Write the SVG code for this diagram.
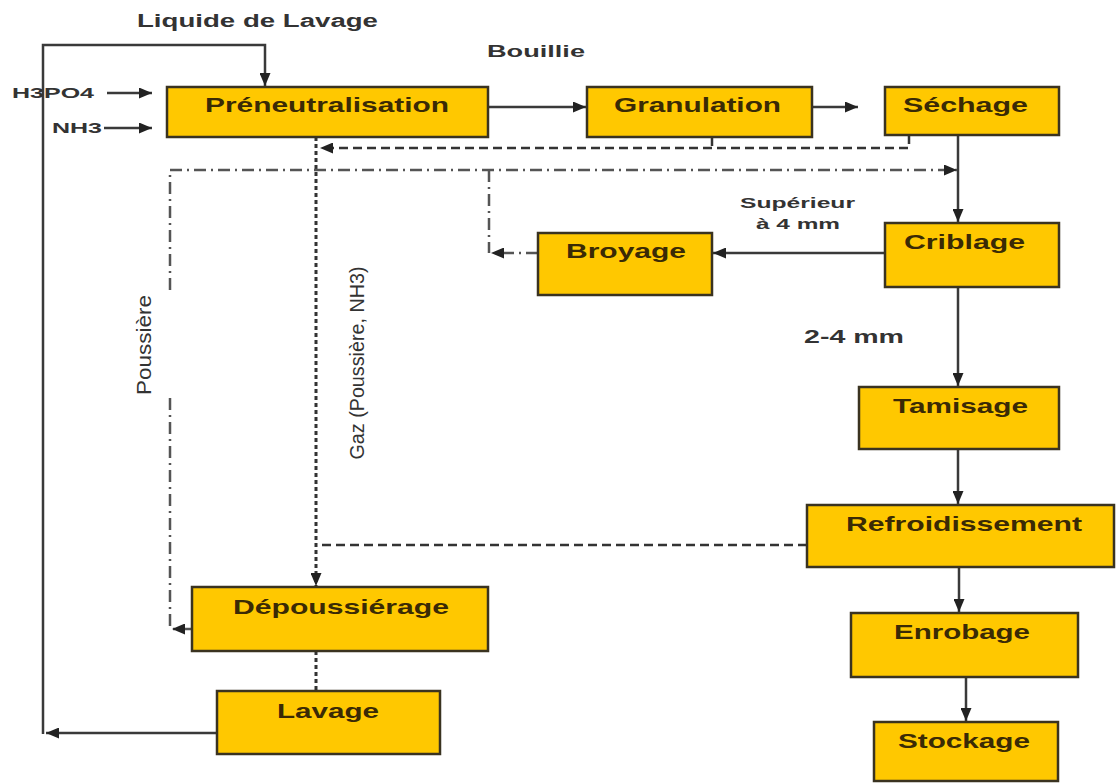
<svg xmlns="http://www.w3.org/2000/svg" width="1120" height="783" viewBox="0 0 1120 783">
<defs>
<marker id="ah" markerUnits="userSpaceOnUse" markerWidth="13" markerHeight="11" refX="13" refY="5.5" orient="auto">
<path d="M0,0 L13,5.5 L0,11 z" fill="#222"/>
</marker>
<style>
.box{fill:#FFC800;stroke:#3a3320;stroke-width:2.5}
.lbl{font-family:"Liberation Sans",Arial,sans-serif;font-weight:bold;font-size:21px;fill:#3a2a05}
.txt{font-family:"Liberation Sans",Arial,sans-serif;font-weight:bold;fill:#333}
.rot{font-family:"Liberation Sans",Arial,sans-serif;font-size:20px;fill:#333}
.solid{fill:none;stroke:#3a3a3a;stroke-width:2.5}
.dash{fill:none;stroke:#333;stroke-width:2.5;stroke-dasharray:9 5}
.dot{fill:none;stroke:#333;stroke-width:3;stroke-dasharray:4 3}
.dashdot{fill:none;stroke:#555;stroke-width:2.5;stroke-dasharray:12 5 2 5}
</style>
</defs>
<rect width="1120" height="783" fill="#fff"/>

<g id="connectors">
<path class="solid" d="M217,733 H46" marker-end="url(#ah)"/>
<path class="solid" d="M43,734 V45 H265 V86" marker-end="url(#ah)"/>
<path class="solid" d="M107,93 H152" marker-end="url(#ah)"/>
<path class="solid" d="M104,128 H152" marker-end="url(#ah)"/>
<path class="solid" d="M488,107 H586" marker-end="url(#ah)"/>
<path class="solid" d="M812,107 H858" marker-end="url(#ah)"/>
<path class="solid" d="M958,135 V222" marker-end="url(#ah)"/>
<path class="solid" d="M885,253 H713" marker-end="url(#ah)"/>
<path class="solid" d="M958,287 V386" marker-end="url(#ah)"/>
<path class="solid" d="M958,449 V504" marker-end="url(#ah)"/>
<path class="solid" d="M959,567 V612" marker-end="url(#ah)"/>
<path class="solid" d="M966,677 V721" marker-end="url(#ah)"/>
<path class="dash" d="M909,135 V148 H320" marker-end="url(#ah)"/>
<path class="dash" d="M712,137 V148"/>
<path class="dash" d="M807,545 H316"/>
<path class="dot" d="M316,137 V586" marker-end="url(#ah)"/>
<path class="dot" d="M316,651 V691"/>
<path class="dashdot" d="M170,290 V170 H957" marker-end="url(#ah)"/>
<path class="dashdot" d="M170,398 V629"/>
<path class="dashdot" d="M192,629 H172" marker-end="url(#ah)"/>
<path class="dashdot" d="M489,170 V253"/>
<path class="dashdot" d="M538,253 H491" marker-end="url(#ah)"/>
</g>

<g id="labels">
<text class="txt" x="137" y="27" font-size="18" textLength="241" lengthAdjust="spacingAndGlyphs">Liquide de Lavage</text>
<text class="txt" x="487" y="57" font-size="17" textLength="98" lengthAdjust="spacingAndGlyphs">Bouillie</text>
<text class="txt" x="12" y="98" font-size="15" textLength="82" lengthAdjust="spacingAndGlyphs">H3PO4</text>
<text class="txt" x="52" y="133" font-size="15" textLength="50" lengthAdjust="spacingAndGlyphs">NH3</text>
<text class="txt" x="740" y="208" font-size="15" textLength="115" lengthAdjust="spacingAndGlyphs">Supérieur</text>
<text class="txt" x="756" y="229" font-size="15" textLength="84" lengthAdjust="spacingAndGlyphs">à 4 mm</text>
<text class="txt" x="804" y="343" font-size="19" textLength="100" lengthAdjust="spacingAndGlyphs">2-4 mm</text>
<text class="rot" transform="translate(151,345) rotate(-90)" text-anchor="middle" textLength="100" lengthAdjust="spacingAndGlyphs">Poussière</text>
<text class="rot" transform="translate(364,363) rotate(-90)" text-anchor="middle" textLength="193" lengthAdjust="spacingAndGlyphs">Gaz (Poussière, NH3)</text>
</g>

<g id="n-preneutralisation"><rect class="box" x="167" y="87" width="321" height="50"/><text class="lbl" x="205" y="112" textLength="244" lengthAdjust="spacingAndGlyphs">Préneutralisation</text></g>
<g id="n-granulation"><rect class="box" x="587" y="87" width="225" height="50"/><text class="lbl" x="614" y="112" textLength="167" lengthAdjust="spacingAndGlyphs">Granulation</text></g>
<g id="n-sechage"><rect class="box" x="885" y="87" width="174" height="48"/><text class="lbl" x="903" y="112" textLength="125" lengthAdjust="spacingAndGlyphs">Séchage</text></g>
<g id="n-broyage"><rect class="box" x="538" y="233" width="174" height="62"/><text class="lbl" x="566" y="258" textLength="120" lengthAdjust="spacingAndGlyphs">Broyage</text></g>
<g id="n-criblage"><rect class="box" x="885" y="223" width="174" height="64"/><text class="lbl" x="904" y="249" textLength="121" lengthAdjust="spacingAndGlyphs">Criblage</text></g>
<g id="n-tamisage"><rect class="box" x="859" y="387" width="200" height="62"/><text class="lbl" x="893" y="413" textLength="135" lengthAdjust="spacingAndGlyphs">Tamisage</text></g>
<g id="n-refroidissement"><rect class="box" x="807" y="505" width="307" height="62"/><text class="lbl" x="846" y="531" textLength="236" lengthAdjust="spacingAndGlyphs">Refroidissement</text></g>
<g id="n-enrobage"><rect class="box" x="851" y="613" width="227" height="64"/><text class="lbl" x="894" y="639" textLength="136" lengthAdjust="spacingAndGlyphs">Enrobage</text></g>
<g id="n-stockage"><rect class="box" x="874" y="722" width="184" height="59"/><text class="lbl" x="898" y="748" textLength="132" lengthAdjust="spacingAndGlyphs">Stockage</text></g>
<g id="n-depoussierage"><rect class="box" x="192" y="587" width="296" height="64"/><text class="lbl" x="233" y="614" textLength="216" lengthAdjust="spacingAndGlyphs">Dépoussiérage</text></g>
<g id="n-lavage"><rect class="box" x="217" y="691" width="223" height="63"/><text class="lbl" x="277" y="718" textLength="102" lengthAdjust="spacingAndGlyphs">Lavage</text></g>
</svg>
